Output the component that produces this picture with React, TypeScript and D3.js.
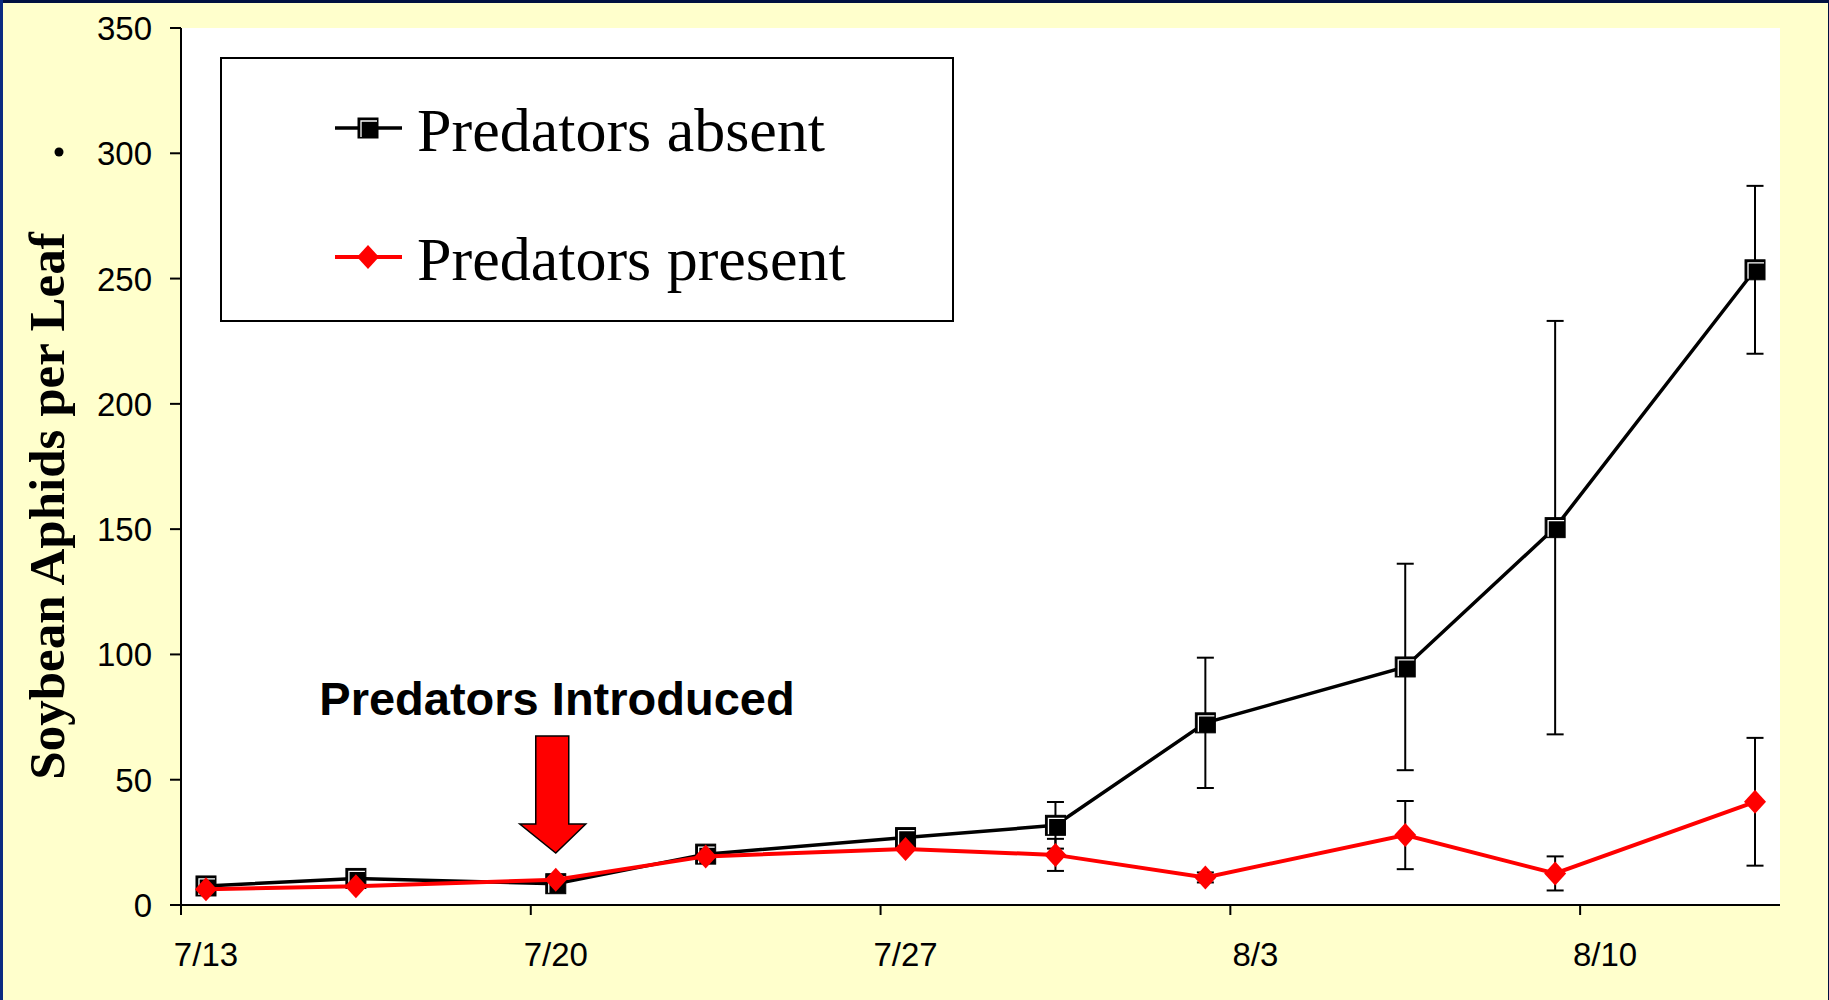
import React from "react";
import * as d3 from "d3";

// ---- data ----
const pointDates = ["7/13", "7/16", "7/20", "7/23", "7/27", "7/30", "8/2", "8/6", "8/9", "8/13"];
const absentMean = [7.6, 10.6, 8.5, 20.3, 26.9, 31.8, 72.7, 95.0, 150.6, 253.5];
const absentSE = [0, 0, 0, 0, 0, 9.3, 26.0, 41.2, 82.5, 33.5];
const presentMean = [6.3, 7.5, 10.1, 19.4, 22.3, 20.0, 11.0, 27.9, 12.6, 41.2];
const presentSE = [0, 0, 0, 0, 0, 6.4, 2.0, 13.6, 6.8, 25.5];
const xTickLabels = ["7/13", "7/20", "7/27", "8/3", "8/10"];
const yTicks = [0, 50, 100, 150, 200, 250, 300, 350];
const seriesNames = ["Predators absent", "Predators present"];
const introducedOn = "7/20";
const axisStart = "7/13";
const axisEnd = "8/14";

const toDate = (s: string, hour = 0) => {
  const [m, d] = s.split("/").map(Number);
  return new Date(Date.UTC(2004, m - 1, d, hour));
};

export default function App() {
  const W = 1829, H = 1000;
  const x = d3.scaleUtc().domain([toDate(axisStart), toDate(axisEnd)]).range([181, 1780]);
  const y = d3.scaleLinear().domain([0, 350]).range([905, 28]);

  const absent = pointDates.map((d, i) => ({ x: x(toDate(d, 12)), y: absentMean[i], se: absentSE[i] }));
  const present = pointDates.map((d, i) => ({ x: x(toDate(d, 12)), y: presentMean[i], se: presentSE[i] }));

  const line = d3.line<{ x: number; y: number }>().x((p) => p.x).y((p) => y(p.y));

  const diamond = (cx: number, cy: number) =>
    `M${cx},${cy - 12}L${cx + 11},${cy}L${cx},${cy + 12}L${cx - 11},${cy}Z`;

  const square = (cx: number, cy: number, key: string | number) => (
    <g key={key}>
      <rect x={cx - 10} y={cy - 10} width={20} height={20} fill="#000" stroke="#000" strokeWidth={1} />
      <path d={`M${cx - 7},${cy + 9}V${cy - 7}H${cx + 9}`} fill="none" stroke="#fff" strokeWidth={1.3} />
    </g>
  );

  const errBars = (pts: { x: number; y: number; se: number }[], k: string) =>
    pts.filter((p) => p.se > 0).map((p, i) => {
      const yt = y(p.y + p.se), yb = y(p.y - p.se);
      return (
        <g key={k + i} stroke="#000" strokeWidth={2}>
          <line x1={p.x} x2={p.x} y1={yt} y2={yb} />
          <line x1={p.x - 8.5} x2={p.x + 8.5} y1={yt} y2={yt} />
          <line x1={p.x - 8.5} x2={p.x + 8.5} y1={yb} y2={yb} />
        </g>
      );
    });

  const ax = x(toDate(introducedOn, 12));
  const arrowPath = `M${ax - 20},736H${ax + 13}V824H${ax + 30}L${ax},853L${ax - 36},824H${ax - 20}Z`;

  return (
    <svg width={W} height={H} style={{ position: "fixed", left: 0, top: 0 }} xmlns="http://www.w3.org/2000/svg">
      <rect x={0} y={0} width={W} height={H} fill="#FFFFCC" />
      <rect x={0} y={0} width={W} height={3} fill="#001040" />
      <rect x={0} y={0} width={3} height={H} fill="#0a2a80" />
      <rect x={W - 1} y={0} width={1} height={H} fill="#001040" />
      {/* plot area */}
      <rect x={181} y={28} width={1599} height={877} fill="#fff" />

      {/* y axis */}
      <line x1={181} x2={181} y1={28} y2={915} stroke="#000" strokeWidth={2} />
      {yTicks.map((t) => (
        <g key={t}>
          <line x1={170} x2={181} y1={y(t)} y2={y(t)} stroke="#000" strokeWidth={2} />
          <text x={152} y={y(t) + 12} textAnchor="end" fontFamily="'Liberation Sans', Arial, sans-serif" fontSize={33} fill="#000">
            {t}
          </text>
        </g>
      ))}
      {/* x axis */}
      <line x1={181} x2={1780} y1={905} y2={905} stroke="#000" strokeWidth={2} />
      {xTickLabels.map((t) => (
        <g key={t}>
          <line x1={x(toDate(t))} x2={x(toDate(t))} y1={905} y2={915} stroke="#000" strokeWidth={2} />
          <text x={x(toDate(t, 12))} y={966} textAnchor="middle" fontFamily="'Liberation Sans', Arial, sans-serif" fontSize={33} fill="#000">
            {t}
          </text>
        </g>
      ))}

      {/* y title */}
      <text transform="translate(64,506) rotate(-90)" textAnchor="middle" fontFamily="'Liberation Serif', 'Times New Roman', serif" fontWeight="bold" fontSize={51} fill="#000">
        Soybean Aphids per Leaf
      </text>
      <circle cx={59} cy={152} r={4.5} fill="#000" />

      {/* absent series */}
      {errBars(absent, "a")}
      <path d={line(absent) || ""} fill="none" stroke="#000" strokeWidth={3.5} />
      {absent.map((p, i) => square(p.x, y(p.y), "s" + i))}

      {/* present series */}
      {errBars(present, "p")}
      <path d={line(present) || ""} fill="none" stroke="#FF0000" strokeWidth={4} />
      {present.map((p, i) => (
        <path key={"d" + i} d={diamond(p.x, y(p.y))} fill="#FF0000" />
      ))}

      {/* annotation */}
      <text x={557} y={715} textAnchor="middle" fontFamily="'Liberation Sans', Arial, sans-serif" fontWeight="bold" fontSize={47} fill="#000">
        Predators Introduced
      </text>
      <path d={arrowPath} fill="#FF0000" stroke="#000" strokeWidth={1.5} />

      {/* legend */}
      <rect x={221} y={58} width={732} height={263} fill="#fff" stroke="#000" strokeWidth={2} />
      <line x1={335} x2={402} y1={128} y2={128} stroke="#000" strokeWidth={3.5} />
      {square(368, 128, "leg1")}
      <line x1={335} x2={402} y1={257} y2={257} stroke="#FF0000" strokeWidth={4} />
      <path d={diamond(368, 257)} fill="#FF0000" />
      <text x={417} y={151} fontFamily="'Liberation Serif', 'Times New Roman', serif" fontSize={62} fill="#000">
        {seriesNames[0]}
      </text>
      <text x={417} y={280} fontFamily="'Liberation Serif', 'Times New Roman', serif" fontSize={62} fill="#000">
        {seriesNames[1]}
      </text>
    </svg>
  );
}
